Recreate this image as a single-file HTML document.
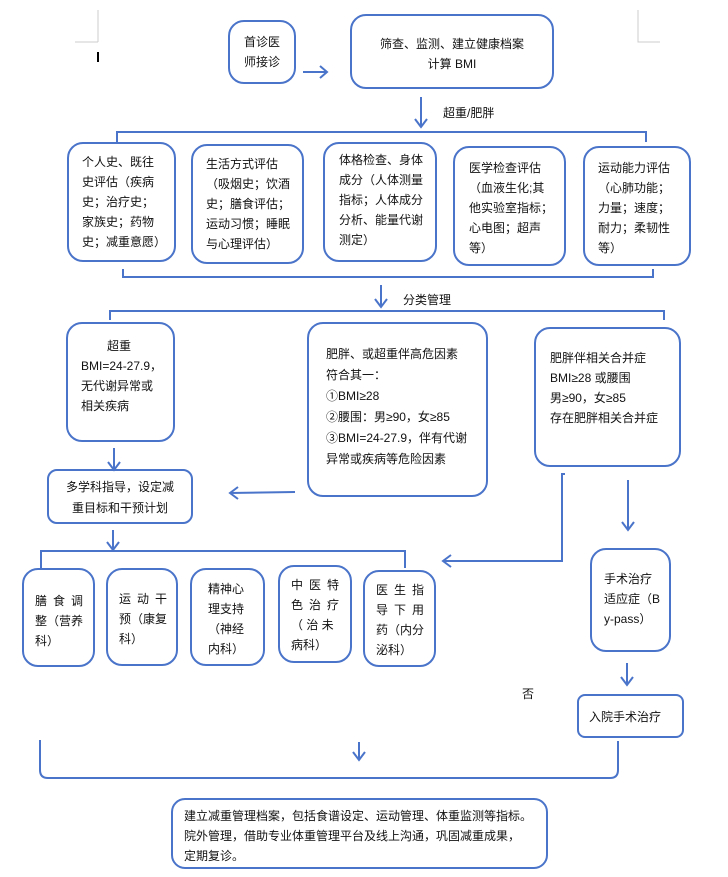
<!DOCTYPE html>
<html><head><meta charset="utf-8"><style>
body{margin:0;width:728px;height:877px;background:#fff;position:relative;overflow:hidden;font-family:"Liberation Sans","Noto Sans CJK SC",sans-serif;font-size:12px;color:#111}
.b{position:absolute;border:2px solid #4a74c9;border-radius:16px;box-sizing:border-box;line-height:20px;white-space:nowrap}
.t{position:absolute;line-height:20px}
.s{letter-spacing:6px}
svg{position:absolute;left:0;top:0}
</style></head><body>
<svg width="728" height="877" fill="none" stroke="#4a74c9" stroke-width="2">
<path d="M98 10V42M75 42H98M638 10V42H660" stroke="#ccc" stroke-width="1"/>
<path d="M98 52V62" stroke="#000" stroke-width="2"/>
<path d="M303 72H327M320 66L327 72L320 78"/>
<path d="M421 97V127M415 119L421 127L427 119"/>
<path d="M117 142V132H646V142"/>
<path d="M123 269V277H653V269"/>
<path d="M381 285V307M375 299L381 307L387 299"/>
<path d="M110 320V311H664V320"/>
<path d="M114 448V470M108 462L114 470L120 462"/>
<path d="M295 492L230 493M238 487L230 493L238 499"/>
<path d="M113 530V550M107 542L113 550L119 542"/>
<path d="M41 568V551H405V568"/>
<path d="M565 474H562V561H443M451 555L443 561L451 567"/>
<path d="M628 480V530M622 522L628 530L634 522"/>
<path d="M627 663V685M621 677L627 685L633 677"/>
<path d="M40 740V770Q40 778 48 778H610Q618 778 618 770V741"/>
<path d="M359 742V760M353 752L359 760L365 752"/>
</svg>
<div class="b" style="left:228px;top:20px;width:68px;height:64px;padding:10px 0 0 14px">首诊医<br>师接诊</div>
<div class="b" style="left:350px;top:14px;width:204px;height:75px;text-align:center;padding-top:18px">筛查、监测、建立健康档案<br>计算 BMI</div>
<div class="t" style="left:443px;top:103px">超重/肥胖</div>
<div class="b" style="left:67px;top:142px;width:109px;height:120px;padding:8px 0 0 13px">个人史、既往<br>史评估（疾病<br>史；治疗史；<br>家族史；药物<br>史；减重意愿）</div>
<div class="b" style="left:191px;top:144px;width:113px;height:120px;padding:8px 0 0 13px">生活方式评估<br>（吸烟史；饮酒<br>史；膳食评估；<br>运动习惯；睡眠<br>与心理评估）</div>
<div class="b" style="left:323px;top:142px;width:114px;height:120px;padding:6px 0 0 14px">体格检查、身体<br>成分（人体测量<br>指标；人体成分<br>分析、能量代谢<br>测定）</div>
<div class="b" style="left:453px;top:146px;width:113px;height:120px;padding:10px 0 0 14px">医学检查评估<br>（血液生化;其<br>他实验室指标；<br>心电图；超声<br>等）</div>
<div class="b" style="left:583px;top:146px;width:108px;height:120px;padding:10px 0 0 13px">运动能力评估<br>（心肺功能；<br>力量；速度；<br>耐力；柔韧性<br>等）</div>
<div class="t" style="left:403px;top:290px">分类管理</div>
<div class="b" style="left:66px;top:322px;width:109px;height:120px;padding:12px 0 0 13px"><div style="padding-left:26px">超重</div>BMI=24-27.9，<br>无代谢异常或<br>相关疾病</div>
<div class="b" style="left:307px;top:322px;width:181px;height:175px;padding:20px 0 0 17px;line-height:21px">肥胖、或超重伴高危因素<br>符合其一：<br>①BMI≥28<br>②腰围：男≥90，女≥85<br>③BMI=24-27.9，伴有代谢<br>异常或疾病等危险因素</div>
<div class="b" style="left:534px;top:327px;width:147px;height:140px;padding:19px 0 0 14px">肥胖伴相关合并症<br>BMI≥28 或腰围<br>男≥90，女≥85<br>存在肥胖相关合并症</div>
<div class="b" style="left:47px;top:469px;width:146px;height:55px;padding:6px 0 0 0;text-align:center;border-radius:10px;line-height:21px">多学科指导，设定减<br>重目标和干预计划</div>
<div class="b" style="left:22px;top:568px;width:73px;height:99px;padding:21px 0 0 11px"><span class="s">膳食调</span><br>整（营养<br>科）</div>
<div class="b" style="left:106px;top:568px;width:72px;height:98px;padding:19px 0 0 11px"><span class="s">运动干</span><br>预（康复<br>科）</div>
<div class="b" style="left:190px;top:568px;width:75px;height:98px;padding:9px 0 0 16px">精神心<br>理支持<br>（神经<br>内科）</div>
<div class="b" style="left:278px;top:565px;width:74px;height:98px;padding:8px 0 0 11px"><span class="s">中医特</span><br><span class="s">色治疗</span><br>（ 治 未<br>病科）</div>
<div class="b" style="left:363px;top:570px;width:73px;height:97px;padding:8px 0 0 11px"><span class="s">医生指</span><br><span class="s">导下用</span><br>药（内分<br>泌科）</div>
<div class="b" style="left:590px;top:548px;width:81px;height:104px;padding:19px 0 0 12px">手术治疗<br>适应症（B<br>y-pass）</div>
<div class="t" style="left:522px;top:684px">否</div>
<div class="b" style="left:577px;top:694px;width:107px;height:44px;padding:11px 0 0 10px;border-radius:8px">入院手术治疗</div>
<div class="b" style="left:171px;top:798px;width:377px;height:71px;padding:6px 0 0 11px;border-radius:14px">建立减重管理档案，包括食谱设定、运动管理、体重监测等指标。<br>院外管理，借助专业体重管理平台及线上沟通，巩固减重成果，<br>定期复诊。</div>
</body></html>
